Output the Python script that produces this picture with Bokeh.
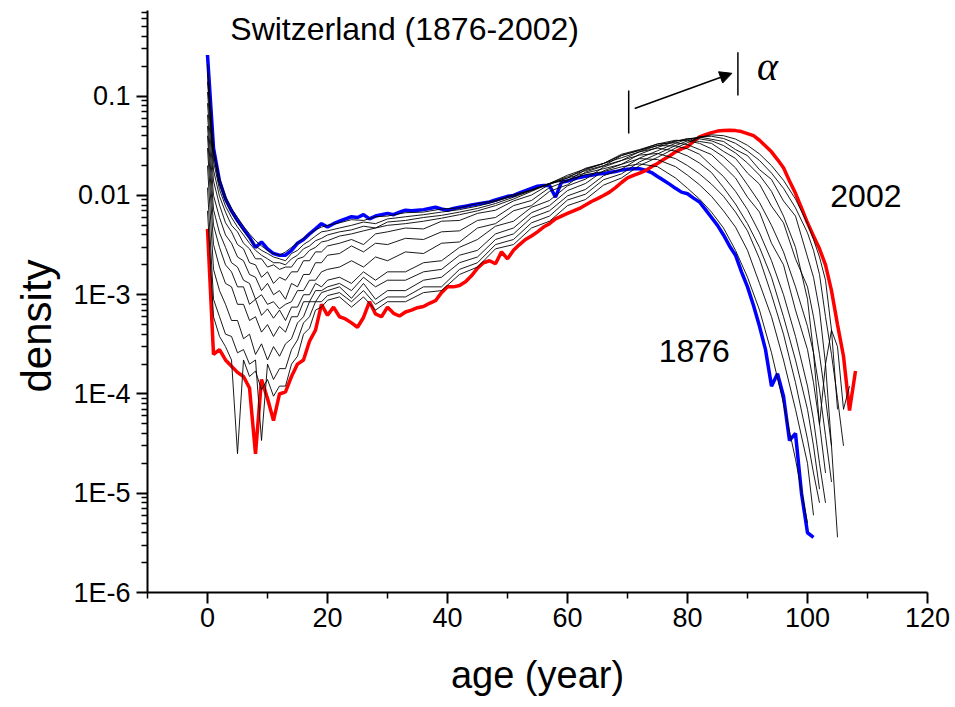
from bokeh.plotting import figure
from bokeh.models import (Range1d, FixedTicker, CustomJSTickFormatter, Arrow,
                          NormalHead, Label, Title)
from bokeh.embed import file_html
from bokeh.resources import INLINE

# ---------------- data ----------------
AGE_1876 = list(range(0, 102))
DENS_1876 = [
    0.26, 0.030, 0.014, 0.0092, 0.0070, 0.0056, 0.0046, 0.0038, 0.0030, 0.0034,
    0.0029, 0.0026, 0.0025, 0.0025, 0.0028, 0.0033, 0.0036, 0.0041, 0.0046, 0.0052,
    0.0048, 0.0052, 0.0055, 0.0058, 0.0061, 0.0060, 0.0064, 0.0058, 0.0062, 0.0064,
    0.0066, 0.0064, 0.0068, 0.0071, 0.0070, 0.0071, 0.0072, 0.0074, 0.0076, 0.0073,
    0.0071, 0.0074, 0.0076, 0.0078, 0.0080, 0.0082, 0.0084, 0.0086, 0.0090, 0.0094,
    0.0098, 0.0100, 0.0106, 0.0112, 0.0118, 0.0124, 0.0126, 0.0126, 0.0096, 0.0136,
    0.0140, 0.0146, 0.0152, 0.0156, 0.0160, 0.0164, 0.0166, 0.0170, 0.0174, 0.0180,
    0.0184, 0.0186, 0.0186, 0.0180, 0.0170, 0.0155, 0.0142, 0.0130, 0.0118, 0.0108,
    0.0104, 0.0094, 0.0086, 0.0072, 0.0060, 0.0050, 0.0040, 0.0031, 0.0025, 0.0017,
    0.0012, 0.00078, 0.00048, 0.00028, 0.00012, 0.00016, 0.000095, 0.000034, 0.000040, 0.0000100,
    0.0000040, 0.0000036,
]

AGE_2002 = list(range(0, 109))
DENS_2002 = [
    0.0046, 2.5e-4, 2.8e-4, 2.2e-4, 1.9e-4, 1.65e-4, 1.5e-4, 1.15e-4, 2.5e-5, 1.4e-4,
    9.0e-5, 5.4e-5, 1.0e-4, 1.05e-4, 1.5e-4, 2.0e-4, 2.2e-4, 3.4e-4, 4.4e-4, 8.0e-4,
    6.2e-4, 7.5e-4, 6.0e-4, 5.7e-4, 5.2e-4, 4.7e-4, 5.9e-4, 8.5e-4, 6.4e-4, 6.0e-4,
    7.5e-4, 6.5e-4, 6.1e-4, 6.7e-4, 7.0e-4, 7.4e-4, 7.6e-4, 8.2e-4, 8.7e-4, 1.05e-3,
    1.2e-3, 1.2e-3, 1.24e-3, 1.35e-3, 1.55e-3, 1.85e-3, 2.1e-3, 2.2e-3, 2.05e-3, 2.7e-3,
    2.3e-3, 2.8e-3, 3.2e-3, 3.6e-3, 3.9e-3, 4.3e-3, 4.8e-3, 5.2e-3, 5.8e-3, 6.2e-3,
    6.6e-3, 7.0e-3, 7.4e-3, 8.0e-3, 8.7e-3, 9.3e-3, 1.0e-2, 1.08e-2, 1.2e-2, 1.35e-2,
    1.5e-2, 1.59e-2, 1.68e-2, 1.78e-2, 1.95e-2, 2.1e-2, 2.3e-2, 2.5e-2, 2.75e-2, 2.95e-2,
    3.1e-2, 3.5e-2, 3.9e-2, 4.1e-2, 4.3e-2, 4.45e-2, 4.5e-2, 4.55e-2, 4.5e-2, 4.4e-2,
    4.2e-2, 4.0e-2, 3.6e-2, 3.15e-2, 2.75e-2, 2.3e-2, 1.9e-2, 1.4e-2, 1.05e-2, 7.5e-3,
    5.3e-3, 3.9e-3, 2.9e-3, 2.0e-3, 1.1e-3, 5.0e-4, 2.4e-4, 6.8e-5, 1.7e-4,
]

# intermediate years (thin black curves), sampled on a common age grid
AGE_GRID = (list(range(0, 21)) + [22, 24, 26, 28, 30]
            + [33, 36, 39, 42, 45, 48, 51, 54, 57, 60, 63, 66, 69, 72]
            + [75, 78] + [80, 82, 84, 86, 88, 90, 92, 94, 96, 98, 100]
            + [101, 102, 103, 104, 105, 106, 107])

MID_1 = [0.21, 0.030, 0.015, 0.0098, 0.0074, 0.0060, 0.0049, 0.0041, 0.0035, 0.0031,
         0.0028, 0.0026, 0.0025, 0.0027, 0.0030, 0.0033, 0.0037, 0.0041, 0.0045, 0.0048, 0.0050,
         0.0053, 0.0057, 0.0056, 0.0061, 0.0062,
         0.0067, 0.0068, 0.0073, 0.0075, 0.0083, 0.0089, 0.0102, 0.0113, 0.0132, 0.0143, 0.0162,
         0.0174, 0.0194, 0.0208,
         0.0195, 0.0150,
         0.0118, 0.0092, 0.0068, 0.0047, 0.0028, 0.0015, 0.0007, 0.00026, 8e-5, 2.2e-5, 5e-6]
MID_2 = [0.17, 0.026, 0.013, 0.0088, 0.0067, 0.0054, 0.0044, 0.0037, 0.0031, 0.0028,
         0.0026, 0.0024, 0.0023, 0.0022, 0.0026, 0.0028, 0.0032, 0.0035, 0.0039, 0.0043, 0.0044,
         0.0047, 0.0050, 0.0054, 0.0052, 0.0058,
         0.0061, 0.0064, 0.0068, 0.0072, 0.0078, 0.0087, 0.0099, 0.0114, 0.0132, 0.0150, 0.0168,
         0.0186, 0.0206, 0.0235,
         0.0230, 0.0195,
         0.0160, 0.0128, 0.0098, 0.0070, 0.0048, 0.0028, 0.0013, 0.0006, 0.00022, 7e-5, 2e-5,
         6e-6]
MID_3 = [0.14, 0.022, 0.0115, 0.0078, 0.0060, 0.0048, 0.0040, 0.0033, 0.0028, 0.0025,
         0.0023, 0.0021, 0.0021, 0.0020, 0.0023, 0.0025, 0.0029, 0.0031, 0.0035, 0.0037, 0.0040,
         0.0043, 0.0045, 0.0049, 0.0047, 0.0054,
         0.0056, 0.0060, 0.0063, 0.0068, 0.0074, 0.0083, 0.0096, 0.0112, 0.0132, 0.0155, 0.0178,
         0.0200, 0.0225, 0.0255,
         0.0265, 0.0235,
         0.0200, 0.0165, 0.0130, 0.0098, 0.0068, 0.0044, 0.0023, 0.0010, 0.00040, 0.00013, 3.5e-5,
         1.6e-5, 8e-6]
MID_4 = [0.11, 0.018, 0.0098, 0.0068, 0.0050, 0.0043, 0.0033, 0.0029, 0.0023, 0.0023,
         0.0019, 0.0020, 0.0018, 0.0019, 0.0019, 0.0023, 0.0024, 0.0028, 0.0030, 0.0034, 0.0035,
         0.0039, 0.0041, 0.0044, 0.0047, 0.0050,
         0.0052, 0.0055, 0.0059, 0.0064, 0.0070, 0.0079, 0.0092, 0.0110, 0.0132, 0.0160, 0.0185,
         0.0210, 0.0240, 0.0275,
         0.0300, 0.0280,
         0.0250, 0.0212, 0.0170, 0.0120, 0.0082, 0.0052, 0.0030, 0.0015, 0.00060, 0.00022, 7e-5,
         3e-5, 1.1e-5]
MID_5 = [0.085, 0.014, 0.0080, 0.0053, 0.0043, 0.0032, 0.0029, 0.0021, 0.0020, 0.0015,
         0.0017, 0.0013, 0.0015, 0.0014, 0.0017, 0.0017, 0.0022, 0.0022, 0.0027, 0.0027, 0.0031,
         0.0033, 0.0036, 0.0032, 0.0041, 0.0043,
         0.0047, 0.0046, 0.0055, 0.0056, 0.0066, 0.0071, 0.0088, 0.0101, 0.0129, 0.0150, 0.0188,
         0.0210, 0.0254, 0.0285,
         0.0318, 0.0315,
         0.0295, 0.0260, 0.0200, 0.0155, 0.0110, 0.0072, 0.0042, 0.0022, 0.0010, 0.00038, 0.00012,
         5.5e-5, 2e-5, 8e-6]
MID_6 = [0.065, 0.010, 0.0060, 0.0040, 0.0033, 0.0024, 0.0022, 0.0016, 0.0015, 0.0011,
         0.0013, 0.0010, 0.0011, 0.0009, 0.0013, 0.0012, 0.0016, 0.0016, 0.0021, 0.0021, 0.0025,
         0.0026, 0.0031, 0.0027, 0.0033, 0.0032,
         0.0037, 0.0036, 0.0043, 0.0044, 0.0056, 0.0060, 0.0079, 0.0089, 0.0120, 0.0140, 0.0182,
         0.0210, 0.0260, 0.0290,
         0.0330, 0.0340,
         0.0325, 0.0290, 0.0258, 0.0198, 0.0150, 0.0096, 0.0068, 0.0033, 0.0020, 0.0007, 0.00028,
         1.3e-4, 5e-5, 1.6e-5]
MID_7 = [0.050, 0.0072, 0.0042, 0.0030, 0.0021, 0.0019, 0.0014, 0.0013, 0.0009, 0.0010,
         0.0008, 0.00085, 0.00072, 0.0008, 0.00085, 0.0011, 0.0011, 0.0014, 0.0014, 0.0017, 0.0018,
         0.0019, 0.0022, 0.0019, 0.0024, 0.0022,
         0.0027, 0.0026, 0.0033, 0.0034, 0.0047, 0.0052, 0.0070, 0.0079, 0.0110, 0.0128, 0.0172,
         0.0198, 0.0252, 0.0285,
         0.0330, 0.0360,
         0.0355, 0.0335, 0.0295, 0.0245, 0.0190, 0.0128, 0.0085, 0.0050, 0.0027, 0.0012, 0.00048,
         2.6e-4, 1.1e-4, 3.8e-5, 1.3e-5]
MID_8 = [0.040, 0.0050, 0.0030, 0.0020, 0.0017, 0.0012, 0.0012, 0.0008, 0.0009, 0.00062,
         0.00072, 0.00058, 0.0007, 0.00055, 0.00075, 0.00075, 0.0010, 0.0010, 0.0013, 0.0012, 0.0014,
         0.0015, 0.0013, 0.0017, 0.0014, 0.0017,
         0.0017, 0.0021, 0.0022, 0.0030, 0.0036, 0.0049, 0.0055, 0.0076, 0.0089, 0.0125, 0.0146,
         0.0193, 0.0225, 0.0276,
         0.0318, 0.0355,
         0.0365, 0.0350, 0.0335, 0.0278, 0.0236, 0.0168, 0.0130, 0.0078, 0.0053, 0.0023, 0.0012,
         6e-4, 2.5e-4, 9e-5, 3e-5]
MID_9 = [0.030, 0.0032, 0.0019, 0.0013, 0.0012, 0.0008, 0.0008, 0.00055, 0.0006, 0.00042,
         0.0005, 0.00038, 0.00048, 0.00042, 0.0006, 0.0006, 0.00085, 0.00085, 0.0011, 0.0011, 0.0012,
         0.0013, 0.0011, 0.0015, 0.0012, 0.0014,
         0.0014, 0.0017, 0.0018, 0.0025, 0.0028, 0.0041, 0.0047, 0.0067, 0.0079, 0.0112, 0.0132,
         0.0177, 0.0206, 0.0260,
         0.0305, 0.0350,
         0.0375, 0.0372, 0.0355, 0.0318, 0.0268, 0.0212, 0.0160, 0.0110, 0.0062, 0.0030, 0.0009,
         2.6e-4, 4.9e-5, 2.0e-4, 4.4e-4, 7e-5]
MID_10 = [0.020, 0.0018, 0.0011, 0.0008, 0.00055, 0.00055, 0.00036, 0.0004, 0.00025, 0.00032,
          0.00022, 0.0003, 0.00024, 0.00032, 0.00036, 0.00052, 0.0006, 0.00085, 0.00085, 0.00105,
          0.0011,
          0.0012, 0.00092, 0.0013, 0.0009, 0.0011,
          0.0011, 0.0014, 0.0015, 0.0021, 0.0024, 0.0036, 0.0041, 0.0060, 0.0070, 0.0099, 0.0115,
          0.0158, 0.0184, 0.0238,
          0.0282, 0.0335,
          0.0370, 0.0388, 0.0368, 0.0350, 0.0290, 0.0252, 0.0182, 0.0145, 0.0088, 0.0062, 0.0024,
          1.5e-3, 7e-4, 2e-4, 3e-5, 3.6e-6]
MID_11 = [0.012, 0.0009, 0.0006, 0.0004, 0.00038, 0.00026, 0.00028, 0.0002, 0.00022, 3.4e-5,
          0.0002, 0.00014, 0.00018, 0.00018, 0.00028, 0.00035, 0.00052, 0.0006, 0.00085, 0.00085,
          0.00098,
          0.00105, 0.00085, 0.0011, 0.0008, 0.00095,
          0.00095, 0.0012, 0.0012, 0.0018, 0.0021, 0.0032, 0.0036, 0.0053, 0.0062, 0.0090, 0.0103,
          0.0144, 0.0165, 0.0218,
          0.0262, 0.0318,
          0.0355, 0.0390, 0.0395, 0.0375, 0.0335, 0.0280, 0.0225, 0.0168, 0.0118, 0.0075, 0.0042,
          2.8e-3, 1.6e-3, 6e-4, 2.5e-4, 9e-5, 3e-5]
MID_12 = [0.007, 0.0006, 0.00038, 0.0003, 0.00022, 2.5e-5, 0.00022, 0.00015, 0.00017, 0.00011,
          0.00014, 9.5e-5, 0.00012, 0.00012, 0.0002, 0.00024, 0.0004, 0.00046, 0.0007, 0.00075,
          0.00088,
          0.00095, 0.00075, 0.00095, 0.0007, 0.00085,
          0.00085, 0.00105, 0.0011, 0.0016, 0.0019, 0.0029, 0.0032, 0.0047, 0.0055, 0.0079, 0.0091,
          0.0127, 0.0150, 0.0200,
          0.0242, 0.0300,
          0.0340, 0.0385, 0.0408, 0.0400, 0.0370, 0.0320, 0.0262, 0.0200, 0.0142, 0.0092, 0.0052,
          3.6e-3, 2.4e-3, 1.4e-3, 4.4e-4, 3e-4, 7e-5, 1.2e-4]
MID_YEARS = [MID_1, MID_2, MID_3, MID_4, MID_5, MID_6, MID_7, MID_8, MID_9, MID_10,
             MID_11, MID_12]

X_TICKS = [0, 20, 40, 60, 80, 100, 120]
X_MINOR = [-10, 10, 30, 50, 70, 90, 110]
Y_TICKS = [1e-6, 1e-5, 1e-4, 1e-3, 1e-2, 1e-1]

# annotation texts
TITLE = "Switzerland (1876-2002)"
LABEL_OLD = "1876"
LABEL_NEW = "2002"
LABEL_ALPHA = "\u03b1"
X_LABEL = "age (year)"
Y_LABEL = "density"

# ---------------- figure ----------------
p = figure(width=955, height=707, x_range=Range1d(-10, 120), y_range=Range1d(1e-6, 0.73),
           y_axis_type="log", output_backend="svg", toolbar_location=None,
           min_border_left=147, min_border_right=28, min_border_top=10, min_border_bottom=115)
p.outline_line_color = None
p.grid.visible = False
p.background_fill_color = "white"
p.border_fill_color = "white"

p.line(AGE_1876, DENS_1876, line_color="#0000FF", line_width=3.5)
p.line(AGE_2002, DENS_2002, line_color="#FF0000", line_width=3.5)
for vals in MID_YEARS:
    p.line(AGE_GRID[:len(vals)], vals, line_color="black", line_width=0.9)

FONT = "Liberation Sans"
for ax in (p.xaxis[0], p.yaxis[0]):
    ax.axis_line_width = 2
    ax.major_tick_line_width = 2
    ax.minor_tick_line_width = 1.5
    ax.major_tick_in = 0
    ax.major_tick_out = 11
    ax.minor_tick_in = 0
    ax.minor_tick_out = 6
    ax.major_label_text_font = FONT
    ax.major_label_text_font_size = "27px"
    ax.major_label_text_color = "black"

p.xaxis.ticker = FixedTicker(ticks=X_TICKS, minor_ticks=X_MINOR)
p.xaxis.major_label_standoff = 4
p.xaxis.axis_label = X_LABEL
p.xaxis.axis_label_text_font = FONT
p.xaxis.axis_label_text_font_size = "38px"
p.xaxis.axis_label_text_font_style = "normal"
p.xaxis.axis_label_text_color = "black"
p.xaxis.axis_label_standoff = 24

y_minor = [m * t for t in Y_TICKS for m in range(2, 10) if m * t <= 0.73]
p.yaxis.ticker = FixedTicker(ticks=Y_TICKS, minor_ticks=y_minor)
p.yaxis.formatter = CustomJSTickFormatter(code="""
const e = Math.round(Math.log10(tick));
if (e >= -2) { return tick.toFixed(-e); }
return "1E" + e;
""")
p.yaxis.major_label_standoff = 6

# y axis title as a side title so it can sit below centre, as in the reference
p.add_layout(Title(text=Y_LABEL, align="left", offset=200, vertical_align="middle",
                   standoff=20, text_font=FONT, text_font_size="42px",
                   text_font_style="normal", text_color="black"), "left")

# texts
p.add_layout(Label(x=3.8, y=0.47, text=TITLE, text_font=FONT, text_font_size="32px",
                   text_baseline="alphabetic", text_color="black"))
p.add_layout(Label(x=103.8, y=0.00983, text=LABEL_NEW, text_font=FONT, text_font_size="32px",
                   text_baseline="alphabetic", text_color="black"))
p.add_layout(Label(x=75.2, y=2.70e-4, text=LABEL_OLD, text_font=FONT, text_font_size="32px",
                   text_baseline="alphabetic", text_color="black"))
p.add_layout(Label(x=91.6, y=0.20, text=LABEL_ALPHA, text_font="Liberation Serif",
                   text_font_style="italic", text_font_size="40px",
                   text_baseline="alphabetic", text_color="black"))

# alpha shift marker: two bars and an arrow
BAR_X = [70.2, 88.4]
BAR_Y0 = [0.042, 0.1016]
BAR_Y1 = [0.114, 0.277]
p.segment(x0=BAR_X, y0=BAR_Y0, x1=BAR_X, y1=BAR_Y1, line_color="black", line_width=1.5)
p.add_layout(Arrow(end=NormalHead(size=12, fill_color="black", line_color="black"),
                   x_start=71.2, y_start=0.0752, x_end=87.4, y_end=0.170,
                   line_color="black", line_width=1.5))

open("out.html", "w").write(file_html(p, INLINE))
